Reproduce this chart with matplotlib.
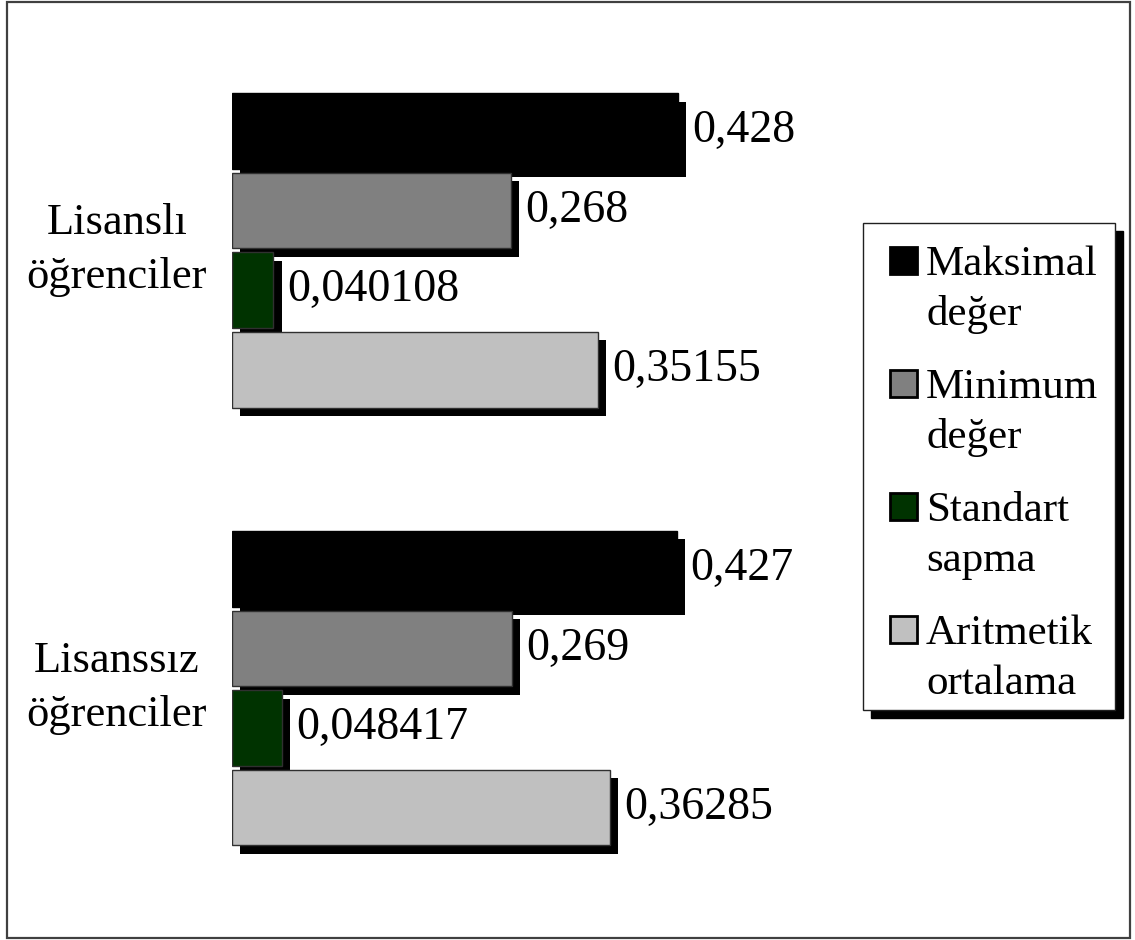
import matplotlib
matplotlib.use("Agg")
import matplotlib.pyplot as plt
import matplotlib.patches as mpatches
import matplotlib.patheffects as pe
from matplotlib.transforms import offset_copy
import numpy as np

plt.rcParams["font.family"] = ["Liberation Serif", "DejaVu Serif"]

# ──────────────────────────────────────────────────────────────────────────────
# Data
# ──────────────────────────────────────────────────────────────────────────────
GROUPS = ["Lisanslı\nöğrenciler", "Lisanssız\nöğrenciler"]
SERIES = ["Maksimal\ndeğer", "Minimum\ndeğer", "Standart\nsapma", "Aritmetik\nortalama"]
MAKSIMAL = [0.428, 0.427]
MINIMUM = [0.268, 0.269]
STANDART = [0.040108, 0.048417]
ARITMETIK = [0.35155, 0.36285]
VALUE_TEXT = [
    ["0,428", "0,268", "0,040108", "0,35155"],
    ["0,427", "0,269", "0,048417", "0,36285"],
]
COLORS = ["#000000", "#808080", "#003300", "#C0C0C0"]

# ──────────────────────────────────────────────────────────────────────────────
# Layout (pixels, origin top-left)
# ──────────────────────────────────────────────────────────────────────────────
W, H, DPI = 1135, 940, 100
AX_LEFT, AX_RIGHT, AX_TOP, AX_BOT = 231.5, 850, 50, 890
PX_PER_UNIT_X = 1043
PX_PER_BAR = 79.6
GROUP_GAP = 5.5
FS = 32


def fx(x):
    return x / W


def fy(y):
    return 1 - y / H


fig = plt.figure(figsize=(W / DPI, H / DPI), dpi=DPI)
ax = fig.add_axes([fx(AX_LEFT), fy(AX_BOT), (AX_RIGHT - AX_LEFT) / W, (AX_BOT - AX_TOP) / H])

# outer frame
fig.patches.append(mpatches.Rectangle((fx(7), fy(938)), fx(1130 - 7), (938 - 2) / H,
                                      transform=fig.transFigure, fill=False,
                                      edgecolor="#404040", lw=1.6))

values = [MAKSIMAL, MINIMUM, STANDART, ARITMETIK]
centers = np.array([0, GROUP_GAP])
offsets = np.array([-1.5, -0.5, 0.5, 1.5])
shadow = [pe.SimplePatchShadow(offset=(6, -6), shadow_rgbFace="black", alpha=1.0), pe.Normal()]

for k, (vals, col) in enumerate(zip(values, COLORS)):
    bars = ax.barh(centers + offsets[k], vals, height=0.95, color=col,
                   edgecolor="#303030" if k else "black", lw=1.0, zorder=2 + k)
    for b in bars:
        b.set_path_effects(shadow)

# value labels, white box hides the bar shadow behind them
label_tr = offset_copy(ax.transData, fig=fig, x=10, y=0, units="points")
for g in range(len(GROUPS)):
    for k in range(len(SERIES)):
        ax.text(values[k][g], centers[g] + offsets[k], VALUE_TEXT[g][k],
                transform=label_tr, ha="left", va="center", fontsize=FS + 1,
                bbox=dict(boxstyle="square,pad=0.08", fc="white", ec="none"),
                zorder=10, clip_on=False)

ax.set_xlim(0, (AX_RIGHT - AX_LEFT) / PX_PER_UNIT_X)
span = (AX_BOT - AX_TOP) / PX_PER_BAR
top = -((250.4 - AX_TOP) / PX_PER_BAR)
ax.set_ylim(top + span, top)

# group names, centred left of the bars
group_tr = offset_copy(ax.transData, fig=fig, x=-(AX_LEFT - 117) * 72 / DPI,
                       y=0, units="points")
for c, name in zip(centers, GROUPS):
    ax.text(0, c, name, transform=group_tr, fontsize=FS, ha="center", va="center",
            multialignment="center", linespacing=1.45, clip_on=False)

ax.set_xticks([])
ax.set_yticks([])
for s in ax.spines.values():
    s.set_visible(False)
ax.patch.set_visible(False)

# legend box with drop shadow
LX0, LY0, LX1, LY1 = 863, 223, 1115, 710
fig.patches.append(mpatches.Rectangle((fx(LX0 + 8), fy(LY1 + 8)), (LX1 - LX0) / W, (LY1 - LY0) / H,
                                      transform=fig.transFigure, color="black", zorder=1))
fig.patches.append(mpatches.Rectangle((fx(LX0), fy(LY1)), (LX1 - LX0) / W, (LY1 - LY0) / H,
                                      transform=fig.transFigure, fc="white", ec="#202020",
                                      lw=1.0, zorder=2))
for k, (name, col) in enumerate(zip(SERIES, COLORS)):
    y0 = 247 + 123 * k
    fig.patches.append(mpatches.Rectangle((fx(890), fy(y0 + 27)), 27 / W, 27 / H,
                                          transform=fig.transFigure, fc=col, ec="black",
                                          lw=2.0, zorder=3))
    for j, line in enumerate(name.split("\n")):
        fig.text(fx(926), fy(y0 + 28 + 50 * j), line, fontsize=FS - 1,
                 ha="left", va="baseline", zorder=4)

fig.savefig("out.png", dpi=DPI)
